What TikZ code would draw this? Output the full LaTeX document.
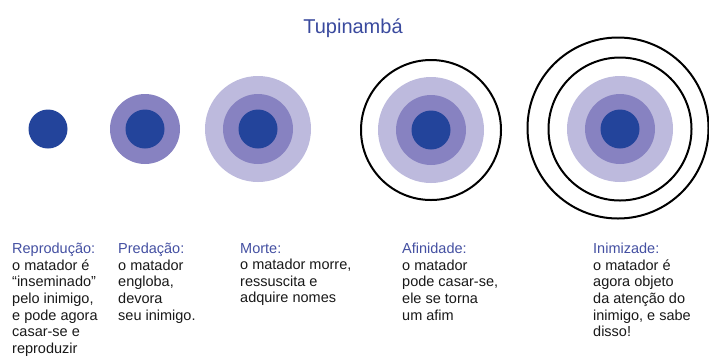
\documentclass[tikz,border=0pt]{standalone}
\usepackage{fontspec}
\setmainfont{Liberation Sans}
\usetikzlibrary{positioning}
\definecolor{coreblue}{HTML}{23449B}
\definecolor{midblue}{HTML}{8782C1}
\definecolor{paleblue}{HTML}{BDBADD}
\definecolor{headblue}{HTML}{4450A2}
\definecolor{titleblue}{HTML}{3A4A9E}
\newcommand{\hd}[1]{\textcolor{headblue}{#1}}
\begin{document}
\begin{tikzpicture}[x=1pt,y=-1pt,
    disc/.style={circle,inner sep=0pt,outer sep=0pt},
    core/.style={disc,fill=coreblue,minimum size=39pt},
    mid/.style={disc,fill=midblue,minimum size=70pt},
    pale/.style={disc,fill=paleblue,minimum size=106pt},
    ring/.style={disc,draw=black,line width=2pt,minimum size=#1},
    desc/.style={anchor=north west,inner sep=0pt,align=left,
        font=\fontsize{14.5}{16.6}\selectfont,text=black!90}]
    \useasboundingbox[fill=white] (0,0) rectangle (709,360);

    \node[font=\fontsize{20}{24}\selectfont,text=titleblue] (title) at (353,28) {Tupinambá};

    % reproducao
    \node[core] (1) at (48,129) {};
    % predacao
    \node[mid]  (2b) at (145,129) {};
    \node[core] (2)  at (2b) {};
    % morte
    \node[pale] (3c) at (258,129) {};
    \node[mid]  (3b) at (3c) {};
    \node[core] (3)  at (3c) {};
    % afinidade
    \node[pale] (4c) at (431,130) {};
    \node[mid]  (4b) at (4c) {};
    \node[core] (4)  at (4c) {};
    \node[ring=140pt] (4r) at (4c) {};
    % inimizade
    \node[pale] (5c) at (620,129) {};
    \node[mid]  (5b) at (5c) {};
    \node[core] (5)  at (5c) {};
    \node[ring=143pt] (5r)  at (5c) {};
    \node[ring=181pt] (5rr) at (618,128) {};

    \node[desc] (t1) at (12,243) {\hd{Reprodução:}\\o matador é\\“inseminado”\\pelo inimigo,\\e pode agora\\casar-se e\\reproduzir};
    \node[desc] (t2) at (118,243) {\hd{Predação:}\\o matador\\engloba,\\devora\\seu inimigo.};
    \node[desc] (t3) at (240,243) {\hd{Morte:}\\o matador morre,\\ressuscita e\\adquire nomes};
    \node[desc] (t4) at (402,243) {\hd{Afinidade:}\\o matador\\pode casar-se,\\ele se torna\\um afim};
    \node[desc] (t5) at (593,243) {\hd{Inimizade:}\\o matador é\\agora objeto\\da atenção do\\inimigo, e sabe\\disso!};
\end{tikzpicture}
\end{document}
